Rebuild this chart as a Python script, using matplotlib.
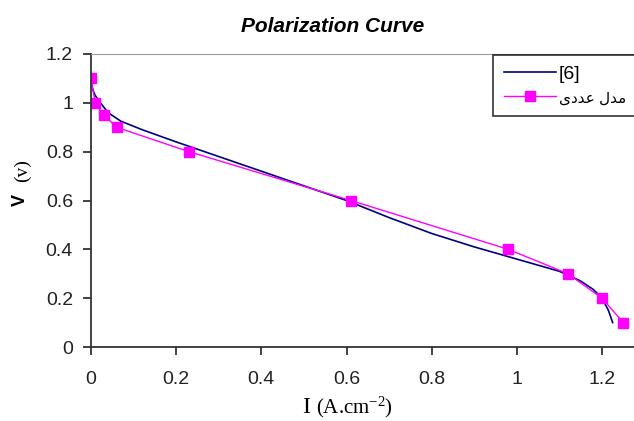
import matplotlib.pyplot as plt

# reference curve [6]
ref_i = [0.0, 0.005, 0.01, 0.02, 0.04, 0.07, 0.12, 0.2, 0.3, 0.4, 0.5, 0.6,
         0.7, 0.8, 0.9, 1.0, 1.1, 1.15, 1.18, 1.2, 1.215, 1.225]
ref_v = [1.08, 1.05, 1.03, 1.005, 0.96, 0.925, 0.89, 0.84, 0.78, 0.72, 0.66, 0.6,
         0.53, 0.465, 0.41, 0.36, 0.31, 0.27, 0.235, 0.2, 0.15, 0.1]

# numerical model
mod_i = [0.0, 0.01, 0.03, 0.06, 0.23, 0.61, 0.98, 1.12, 1.2, 1.25]
mod_v = [1.1, 1.0, 0.95, 0.9, 0.8, 0.6, 0.4, 0.3, 0.2, 0.1]

ticks = [0, 0.2, 0.4, 0.6, 0.8, 1.0, 1.2]
tick_labels = ['0', '0.2', '0.4', '0.6', '0.8', '1', '1.2']

# "مدل عددی" pre-shaped in visual order (matplotlib has no bidi/shaping)
model_label = "\uFBFC\uFEA9\uFEAA\uFECB \uFEDD\uFEAA\uFEE3"

plt.rcParams['font.family'] = ['Liberation Sans', 'DejaVu Sans']
plt.rcParams['mathtext.fontset'] = 'custom'
plt.rcParams['mathtext.rm'] = 'Liberation Serif'
plt.rcParams['mathtext.it'] = 'Liberation Serif:italic'

fig = plt.figure(figsize=(6.34, 4.21), dpi=100)
ax = fig.add_axes([91/634, 74/421, 1 - 91/634 + 0.01, 293/421])

ax.plot(ref_i, ref_v, color='#000080', lw=1.2, label='[6]')
ax.plot(mod_i, mod_v, color='#FF00FF', lw=1.0, marker='s', ms=7,
        label=model_label)

ax.set_xlim(0, 1.29)
ax.set_ylim(0, 1.2)
ax.set_xticks(ticks)
ax.set_xticklabels(tick_labels)
ax.set_yticks(ticks)
ax.set_yticklabels(tick_labels)
ax.tick_params(direction='out', length=6, width=1.2, labelsize=14,
               colors='#222222')
ax.tick_params(axis='x', pad=11)
ax.tick_params(axis='y', pad=7)

ax.spines['right'].set_visible(False)
ax.spines['top'].set_color('#999999')
for s in ('left', 'bottom'):
    ax.spines[s].set_linewidth(1.3)
    ax.spines[s].set_color('#333333')

fig.text(333/634, 1 - 32/421, 'Polarization Curve', fontsize=15,
         fontweight='bold', style='italic', ha='center', va='baseline')

# x label: large "I" then the unit
fig.text(302/634, 1 - 413/421, 'I', fontsize=17, family='Liberation Serif',
         ha='left', va='baseline')
fig.text(316/634, 1 - 413/421, '(A.cm$^{-2}$)', fontsize=15,
         family='Liberation Serif', ha='left', va='baseline')

# y label: bold "V" and "(v)"
fig.text(20/634, 1 - 200/421, 'V', rotation=90, fontsize=13,
         fontweight='bold', ha='center', va='center')
fig.text(22/634, 1 - 171/421, '(v)', rotation=90, fontsize=14,
         family='Liberation Serif', ha='center', va='center')

leg = ax.legend(loc='upper left', bbox_to_anchor=(493/634, 1 - 55/421),
                bbox_transform=fig.transFigure, fontsize=14, frameon=True,
                fancybox=False, borderaxespad=0, handlelength=2.7,
                handletextpad=0.15, borderpad=0.55, labelspacing=0.3)
leg.get_frame().set_edgecolor('black')
leg.get_frame().set_linewidth(1.2)
leg.get_texts()[1].set_fontsize(11)

fig.savefig('out.png', dpi=100)
